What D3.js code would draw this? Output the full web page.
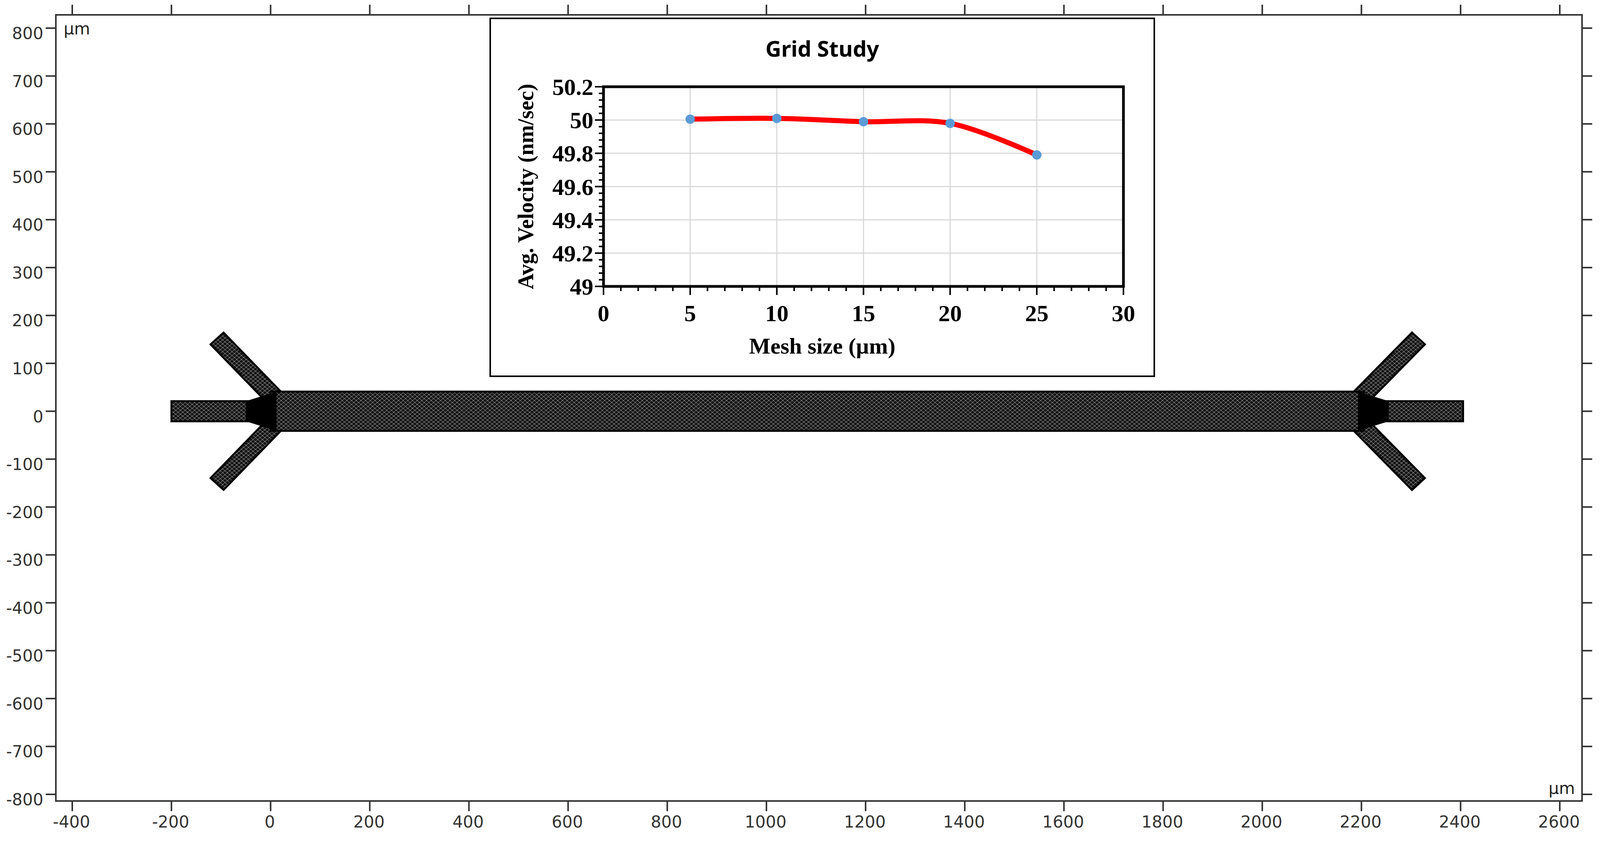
<!DOCTYPE html>
<html>
<head>
<meta charset="utf-8">
<script src="https://cdn.jsdelivr.net/npm/d3@7"></script>
<style>
  body { margin: 0; background: #fff; }
  svg { display: block; }
</style>
</head>
<body>
<script>
// main mesh view axes
const xTicks = [-400, -200, 0, 200, 400, 600, 800, 1000, 1200, 1400, 1600, 1800, 2000, 2200, 2400, 2600];
const yTicks = [800, 700, 600, 500, 400, 300, 200, 100, 0, -100, -200, -300, -400, -500, -600, -700, -800];

// channel geometry (µm)
const mainChannel = [[0, 41], [2205, 41], [2205, -41], [0, -41]];
const leftInlet = [[-200, 21], [5, 21], [5, -21], [-200, -21]];
const rightInlet = [[2200, 21], [2405, 21], [2405, -21], [2200, -21]];
const junctionCores = [
  [[-50, 21], [12, 41], [12, -41], [-50, -21]],
  [[2193, 41], [2255, 21], [2255, -21], [2193, -41]]
];
const arms = [
  [[25, 10], [-108, 152]],
  [[25, -10], [-108, -152]],
  [[2180, 10], [2315, 152]],
  [[2180, -10], [2315, -152]]
];
const armWidth = 36;

// inset: grid study
const meshSize = [5, 10, 15, 20, 25];
const avgVelocity = [50.005, 50.01, 49.99, 49.98, 49.79];
const insetXTicks = [0, 5, 10, 15, 20, 25, 30];
const insetYTicks = [49, 49.2, 49.4, 49.6, 49.8, 50, 50.2];

const W = 4198, H = 2178;
const svg = d3.select("body").append("svg").attr("width", W).attr("height", H);

const frame = {left: 143, right: 4050, top: 38, bottom: 2050};
const x = d3.scaleLinear().domain([-400, 2600]).range([185, 3993]);
const y = d3.scaleLinear().domain([800, -800]).range([72, 2033]);

// mesh-like texture
const defs = svg.append("defs");
const pat = defs.append("pattern")
  .attr("id", "mesh").attr("patternUnits", "userSpaceOnUse")
  .attr("width", 12).attr("height", 10);
pat.append("rect").attr("width", 12).attr("height", 10).attr("fill", "#141414");
pat.append("path")
  .attr("d", "M0,5 L6,0 L12,5 L6,10 Z")
  .attr("fill", "none").attr("stroke", "#a8a8a8").attr("stroke-width", 1);

const geo = svg.append("g");
const line = d3.line().x(d => x(d[0])).y(d => y(d[1]));

arms.forEach(a => {
  const dx = a[1][0] - a[0][0], dy = a[1][1] - a[0][1];
  const len = Math.hypot(dx, dy);
  const nx = -dy / len * armWidth / 2, ny = dx / len * armWidth / 2;
  const poly = [
    [a[0][0] + nx, a[0][1] + ny], [a[1][0] + nx, a[1][1] + ny],
    [a[1][0] - nx, a[1][1] - ny], [a[0][0] - nx, a[0][1] - ny]
  ];
  geo.append("path").attr("d", line(poly) + "Z")
    .attr("fill", "url(#mesh)").attr("stroke", "#000").attr("stroke-width", 5);
});
[leftInlet, rightInlet, mainChannel].forEach(p => {
  geo.append("path").attr("d", line(p) + "Z")
    .attr("fill", "url(#mesh)").attr("stroke", "#000").attr("stroke-width", 5);
});
junctionCores.forEach(p => {
  geo.append("path").attr("d", line(p) + "Z").attr("fill", "#000");
});

// frame and ticks
const axisColor = "#333";
svg.append("rect")
  .attr("x", frame.left).attr("y", frame.top)
  .attr("width", frame.right - frame.left).attr("height", frame.bottom - frame.top)
  .attr("fill", "none").attr("stroke", axisColor).attr("stroke-width", 4);

const font = "'DejaVu Sans', 'Open Sans', sans-serif";
xTicks.forEach(t => {
  svg.append("line").attr("x1", x(t)).attr("x2", x(t))
    .attr("y1", frame.bottom).attr("y2", frame.bottom + 26)
    .attr("stroke", axisColor).attr("stroke-width", 4);
  svg.append("line").attr("x1", x(t)).attr("x2", x(t))
    .attr("y1", frame.top).attr("y2", frame.top - 26)
    .attr("stroke", axisColor).attr("stroke-width", 4);
  svg.append("text").attr("x", x(t) - 2).attr("y", frame.bottom + 68)
    .attr("text-anchor", "middle").attr("font-family", font)
    .attr("font-size", 42).attr("fill", "#333").text(t);
});
yTicks.forEach(t => {
  svg.append("line").attr("x1", frame.left - 26).attr("x2", frame.left)
    .attr("y1", y(t)).attr("y2", y(t))
    .attr("stroke", axisColor).attr("stroke-width", 4);
  svg.append("line").attr("x1", frame.right).attr("x2", frame.right + 26)
    .attr("y1", y(t)).attr("y2", y(t))
    .attr("stroke", axisColor).attr("stroke-width", 4);
  svg.append("text").attr("x", frame.left - 32).attr("y", y(t) + 28)
    .attr("text-anchor", "end").attr("font-family", font)
    .attr("font-size", 42).attr("fill", "#333").text(t);
});
svg.append("text").attr("x", 163).attr("y", 88)
  .attr("font-family", font).attr("font-size", 42).attr("fill", "#222").text("µm");
svg.append("text").attr("x", frame.right - 18).attr("y", frame.bottom - 18)
  .attr("text-anchor", "end")
  .attr("font-family", font).attr("font-size", 42).attr("fill", "#222").text("µm");

// inset chart
const inset = svg.append("g");
inset.append("rect").attr("x", 1255).attr("y", 47).attr("width", 1700).attr("height", 916)
  .attr("fill", "#fff").attr("stroke", "#000").attr("stroke-width", 4);

const ix = d3.scaleLinear().domain([0, 30]).range([1545, 2876]);
const iy = d3.scaleLinear().domain([49, 50.2]).range([733, 222]);
const serif = "'Liberation Serif', 'Times New Roman', serif";

inset.append("text").attr("x", 2105).attr("y", 145).attr("text-anchor", "middle")
  .attr("font-family", "'Noto Sans', sans-serif").attr("font-weight", "bold")
  .attr("font-size", 56).text("Grid Study");

// gridlines
insetXTicks.forEach(t => {
  inset.append("line").attr("x1", ix(t)).attr("x2", ix(t))
    .attr("y1", iy(49)).attr("y2", iy(50.2)).attr("stroke", "#d9d9d9").attr("stroke-width", 3);
});
insetYTicks.forEach(t => {
  inset.append("line").attr("x1", ix(0)).attr("x2", ix(30))
    .attr("y1", iy(t)).attr("y2", iy(t)).attr("stroke", "#d9d9d9").attr("stroke-width", 3);
});

// minor and major ticks
d3.range(0, 31, 1).forEach(t => {
  inset.append("line").attr("x1", ix(t)).attr("x2", ix(t))
    .attr("y1", iy(49)).attr("y2", iy(49) + (t % 5 === 0 ? 22 : 12))
    .attr("stroke", "#000").attr("stroke-width", 4);
});
d3.range(0, 31, 1).forEach(i => {
  const t = 49 + i * 0.04;
  inset.append("line").attr("x1", ix(0) - (i % 5 === 0 ? 22 : 12)).attr("x2", ix(0))
    .attr("y1", iy(t)).attr("y2", iy(t))
    .attr("stroke", "#000").attr("stroke-width", 4);
});

inset.append("rect").attr("x", ix(0)).attr("y", iy(50.2))
  .attr("width", ix(30) - ix(0)).attr("height", iy(49) - iy(50.2))
  .attr("fill", "none").attr("stroke", "#000").attr("stroke-width", 7);

insetXTicks.forEach(t => {
  inset.append("text").attr("x", ix(t)).attr("y", 822).attr("text-anchor", "middle")
    .attr("font-family", serif).attr("font-weight", "bold").attr("font-size", 60).text(t);
});
insetYTicks.forEach(t => {
  inset.append("text").attr("x", ix(0) - 26).attr("y", iy(t) + 21).attr("text-anchor", "end")
    .attr("font-family", serif).attr("font-weight", "bold").attr("font-size", 60)
    .text(d3.format("")(+t.toFixed(1)));
});
inset.append("text").attr("x", 2105).attr("y", 905).attr("text-anchor", "middle")
  .attr("font-family", serif).attr("font-weight", "bold").attr("font-size", 58)
  .text("Mesh size (µm)");
inset.append("text").attr("transform", `translate(1365, ${(iy(49) + iy(50.2)) / 2}) rotate(-90)`)
  .attr("text-anchor", "middle")
  .attr("font-family", serif).attr("font-weight", "bold").attr("font-size", 56)
  .text("Avg. Velocity  (nm/sec)");

const pts = meshSize.map((m, i) => [m, avgVelocity[i]]);
inset.append("path").datum(pts)
  .attr("d", d3.line().x(d => ix(d[0])).y(d => iy(d[1])).curve(d3.curveCatmullRom.alpha(0.5)))
  .attr("fill", "none").attr("stroke", "#ff0000").attr("stroke-width", 13)
  .attr("stroke-linecap", "round");
inset.selectAll("circle.pt").data(pts).enter().append("circle")
  .attr("cx", d => ix(d[0])).attr("cy", d => iy(d[1])).attr("r", 12)
  .attr("fill", "#5b9bd5");
</script>
</body>
</html>
